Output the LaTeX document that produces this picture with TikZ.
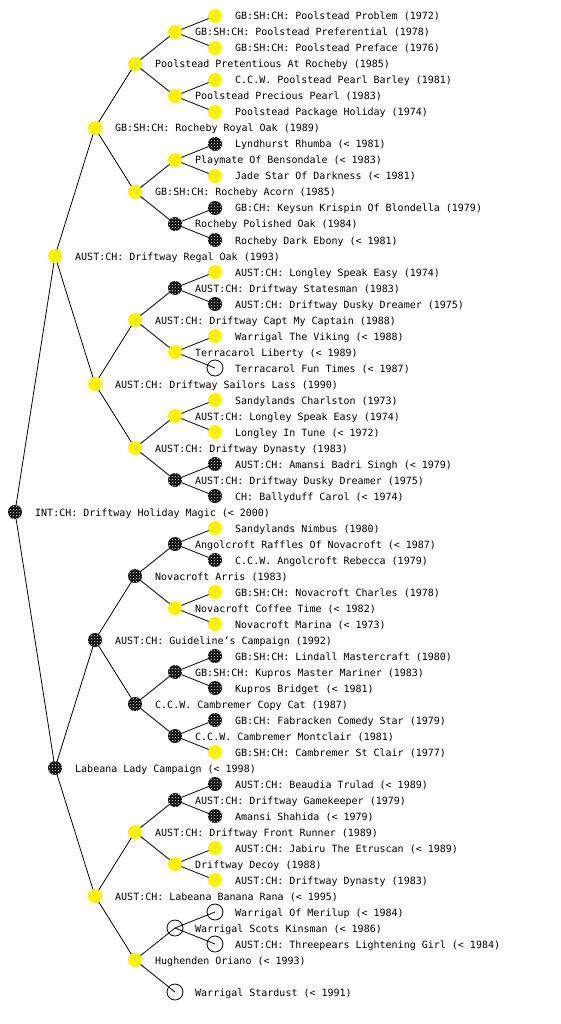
\documentclass[tikz,border=0pt]{standalone}
\usepackage{fontspec}
\setmonofont{DejaVu Sans Mono}
\usetikzlibrary{patterns,backgrounds}
\tikzset{
  pbase/.style={circle,inner sep=0pt,minimum size=14pt},
  Y/.style={pbase,fill=yellow},
  B/.style={pbase,fill=black,postaction={pattern=crosshatch dots,pattern color=white}},
  W/.style={pbase,minimum size=16pt,draw=black,line width=0.8pt},
  lbl/.style={anchor=base west,inner sep=0pt,font=\ttfamily\fontsize{10pt}{12pt}\selectfont},
  edge/.style={draw=black,line width=0.8pt}
}
\newcommand\pn[4]{\node[#3] (n#2) at (#1,#2) {}; \node[lbl] (t#2) at ([xshift=20pt,yshift=-4pt]n#2.center) {#4};}
\begin{document}
\begin{tikzpicture}[x=1pt,y=-1pt]
\useasboundingbox (0,0) rectangle (560,1024);
\pn{215}{16}{Y}{GB:SH:CH: Poolstead Problem (1972)}
\pn{175}{32}{Y}{GB:SH:CH: Poolstead Preferential (1978)}
\pn{215}{48}{Y}{GB:SH:CH: Poolstead Preface (1976)}
\pn{135}{64}{Y}{Poolstead Pretentious At Rocheby (1985)}
\pn{215}{80}{Y}{C.C.W. Poolstead Pearl Barley (1981)}
\pn{175}{96}{Y}{Poolstead Precious Pearl (1983)}
\pn{215}{112}{Y}{Poolstead Package Holiday (1974)}
\pn{95}{128}{Y}{GB:SH:CH: Rocheby Royal Oak (1989)}
\pn{215}{144}{B}{Lyndhurst Rhumba (< 1981)}
\pn{175}{160}{Y}{Playmate Of Bensondale (< 1983)}
\pn{215}{176}{Y}{Jade Star Of Darkness (< 1981)}
\pn{135}{192}{Y}{GB:SH:CH: Rocheby Acorn (1985)}
\pn{215}{208}{B}{GB:CH: Keysun Krispin Of Blondella (1979)}
\pn{175}{224}{B}{Rocheby Polished Oak (1984)}
\pn{215}{240}{B}{Rocheby Dark Ebony (< 1981)}
\pn{55}{256}{Y}{AUST:CH: Driftway Regal Oak (1993)}
\pn{215}{272}{Y}{AUST:CH: Longley Speak Easy (1974)}
\pn{175}{288}{B}{AUST:CH: Driftway Statesman (1983)}
\pn{215}{304}{B}{AUST:CH: Driftway Dusky Dreamer (1975)}
\pn{135}{320}{Y}{AUST:CH: Driftway Capt My Captain (1988)}
\pn{215}{336}{Y}{Warrigal The Viking (< 1988)}
\pn{175}{352}{Y}{Terracarol Liberty (< 1989)}
\pn{215}{368}{W}{Terracarol Fun Times (< 1987)}
\pn{95}{384}{Y}{AUST:CH: Driftway Sailors Lass (1990)}
\pn{215}{400}{Y}{Sandylands Charlston (1973)}
\pn{175}{416}{Y}{AUST:CH: Longley Speak Easy (1974)}
\pn{215}{432}{Y}{Longley In Tune (< 1972)}
\pn{135}{448}{Y}{AUST:CH: Driftway Dynasty (1983)}
\pn{215}{464}{B}{AUST:CH: Amansi Badri Singh (< 1979)}
\pn{175}{480}{B}{AUST:CH: Driftway Dusky Dreamer (1975)}
\pn{215}{496}{B}{CH: Ballyduff Carol (< 1974)}
\pn{15}{512}{B}{INT:CH: Driftway Holiday Magic (< 2000)}
\pn{215}{528}{Y}{Sandylands Nimbus (1980)}
\pn{175}{544}{B}{Angolcroft Raffles Of Novacroft (< 1987)}
\pn{215}{560}{B}{C.C.W. Angolcroft Rebecca (1979)}
\pn{135}{576}{B}{Novacroft Arris (1983)}
\pn{215}{592}{Y}{GB:SH:CH: Novacroft Charles (1978)}
\pn{175}{608}{Y}{Novacroft Coffee Time (< 1982)}
\pn{215}{624}{Y}{Novacroft Marina (< 1973)}
\pn{95}{640}{B}{AUST:CH: Guideline’s Campaign (1992)}
\pn{215}{656}{B}{GB:SH:CH: Lindall Mastercraft (1980)}
\pn{175}{672}{B}{GB:SH:CH: Kupros Master Mariner (1983)}
\pn{215}{688}{B}{Kupros Bridget (< 1981)}
\pn{135}{704}{B}{C.C.W. Cambremer Copy Cat (1987)}
\pn{215}{720}{B}{GB:CH: Fabracken Comedy Star (1979)}
\pn{175}{736}{B}{C.C.W. Cambremer Montclair (1981)}
\pn{215}{752}{Y}{GB:SH:CH: Cambremer St Clair (1977)}
\pn{55}{768}{B}{Labeana Lady Campaign (< 1998)}
\pn{215}{784}{B}{AUST:CH: Beaudia Trulad (< 1989)}
\pn{175}{800}{B}{AUST:CH: Driftway Gamekeeper (1979)}
\pn{215}{816}{B}{Amansi Shahida (< 1979)}
\pn{135}{832}{Y}{AUST:CH: Driftway Front Runner (1989)}
\pn{215}{848}{Y}{AUST:CH: Jabiru The Etruscan (< 1989)}
\pn{175}{864}{Y}{Driftway Decoy (1988)}
\pn{215}{880}{Y}{AUST:CH: Driftway Dynasty (1983)}
\pn{95}{896}{Y}{AUST:CH: Labeana Banana Rana (< 1995)}
\pn{215}{912}{W}{Warrigal Of Merilup (< 1984)}
\pn{175}{928}{W}{Warrigal Scots Kinsman (< 1986)}
\pn{215}{944}{W}{AUST:CH: Threepears Lightening Girl (< 1984)}
\pn{135}{960}{Y}{Hughenden Oriano (< 1993)}
\pn{175}{992}{W}{Warrigal Stardust (< 1991)}
\begin{scope}[on background layer]
\foreach \p/\a/\b in {512/256/768, 256/128/384, 128/64/192, 64/32/96, 32/16/48, 96/80/112,
  192/160/224, 160/144/176, 224/208/240, 384/320/448, 320/288/352, 288/272/304, 352/336/368,
  448/416/480, 416/400/432, 480/464/496, 768/640/896, 640/576/704, 576/544/608, 544/528/560,
  608/592/624, 704/672/736, 672/656/688, 736/720/752, 896/832/960, 832/800/864, 800/784/816,
  864/848/880, 960/928/992, 928/912/944}{
  \draw[edge] (n\p.center) -- (n\a.center);
  \draw[edge] (n\p.center) -- (n\b.center);
}
\end{scope}
\end{tikzpicture}
\end{document}
